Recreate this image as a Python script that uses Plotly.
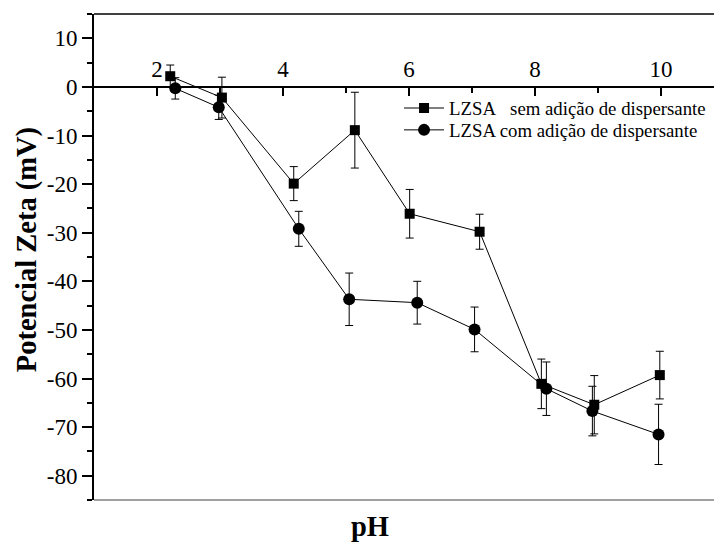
import plotly.graph_objects as go

# Data
ph_sem = [2.21, 3.03, 4.17, 5.14, 6.01, 7.12, 8.10, 8.94, 9.98]
zeta_sem = [2.2, -2.2, -19.9, -8.9, -26.1, -29.8, -61.1, -65.4, -59.3]
err_sem = [2.3, 4.2, 3.5, 7.8, 5.0, 3.6, 5.1, 6.0, 4.9]

ph_com = [2.29, 2.98, 4.25, 5.05, 6.13, 7.04, 8.18, 8.91, 9.96]
zeta_com = [-0.3, -4.2, -29.2, -43.7, -44.4, -49.9, -62.1, -66.7, -71.5]
err_com = [2.2, 2.5, 3.6, 5.4, 4.4, 4.6, 5.5, 5.1, 6.2]

name_sem = "LZSA\u00a0\u00a0\u00a0sem adição de dispersante"
name_com = "LZSA com adição de dispersante"

x_tickvals = [2, 4, 6, 8, 10]
y_tickvals = [10, 0, -10, -20, -30, -40, -50, -60, -70, -80]
y_ticktext = ["10", "0", "-10", "-20", "-30", "-40", "-50", "-60", "-70", "-80"]

FONT = "Liberation Serif"

fig = go.Figure()
fig.add_trace(go.Scatter(
    x=ph_sem, y=zeta_sem, name=name_sem, mode="lines+markers", legend="legend",
    line=dict(color="black", width=1),
    marker=dict(symbol="square", size=10, color="black"),
    error_y=dict(type="data", array=err_sem, visible=True, color="black", thickness=1, width=4),
))
fig.add_trace(go.Scatter(
    x=ph_com, y=zeta_com, name=name_com, mode="lines+markers", legend="legend2",
    line=dict(color="black", width=1),
    marker=dict(symbol="circle", size=12, color="black"),
    error_y=dict(type="data", array=err_com, visible=True, color="black", thickness=1, width=4),
))

legend_style = dict(
    xanchor="left", yanchor="middle", bgcolor="rgba(0,0,0,0)",
    font=dict(family=FONT, size=18.8, color="black"), itemwidth=40,
)

ymin, ymax = -85, 15
fig.update_layout(
    width=714, height=544,
    margin=dict(l=94, r=0, t=14, b=44, autoexpand=False),
    paper_bgcolor="white", plot_bgcolor="white",
    font=dict(family=FONT, color="black", size=22),
    showlegend=True,
    legend=dict(x=0.492, y=0.806, **legend_style),
    legend2=dict(x=0.492, y=0.761, **legend_style),
    xaxis=dict(
        range=[1, 10.84], anchor="free", position=(0 - ymin) / (ymax - ymin),
        side="top", showline=True, linecolor="black", linewidth=1.5,
        tickvals=x_tickvals, ticks="inside", ticklen=8, tickwidth=1.5, tickcolor="black",
        minor=dict(dtick=1, tick0=1, ticks="inside", ticklen=5, tickwidth=1.5, tickcolor="black"),
        showgrid=False, zeroline=False, automargin=False,
        tickfont=dict(family=FONT, size=23, color="black"),
    ),
    yaxis=dict(
        range=[ymin, ymax], showline=True, linecolor="black", linewidth=2,
        tickvals=y_tickvals, ticktext=y_ticktext,
        ticks="outside", ticklen=10, tickwidth=1.5, tickcolor="black",
        minor=dict(dtick=5, tick0=0, ticks="outside", ticklen=5, tickwidth=1.5, tickcolor="black"),
        showgrid=False, zeroline=False, automargin=False,
        tickfont=dict(family=FONT, size=23, color="black"),
    ),
    shapes=[
        dict(type="line", xref="paper", yref="paper", x0=0, x1=1, y0=1, y1=1,
             line=dict(color="black", width=1.5)),
        dict(type="line", xref="paper", yref="paper", x0=0, x1=1, y0=0, y1=0,
             line=dict(color="#808080", width=1.5)),
    ],
    annotations=[
        dict(text="<b>Potencial Zeta (mV)</b>", xref="paper", yref="paper",
             x=-0.108, y=0.514, textangle=-90, showarrow=False,
             xanchor="center", yanchor="middle",
             font=dict(family=FONT, size=28.5, color="black")),
        dict(text="<b>pH</b>", xref="paper", yref="paper",
             x=0.445, y=-0.054, showarrow=False,
             xanchor="center", yanchor="middle",
             font=dict(family=FONT, size=28.5, color="black")),
    ],
)

fig.write_html(
    "out.html",
    config={"displayModeBar": False},
    post_script="document.body.style.margin='0px';document.body.style.overflow='hidden';",
)
